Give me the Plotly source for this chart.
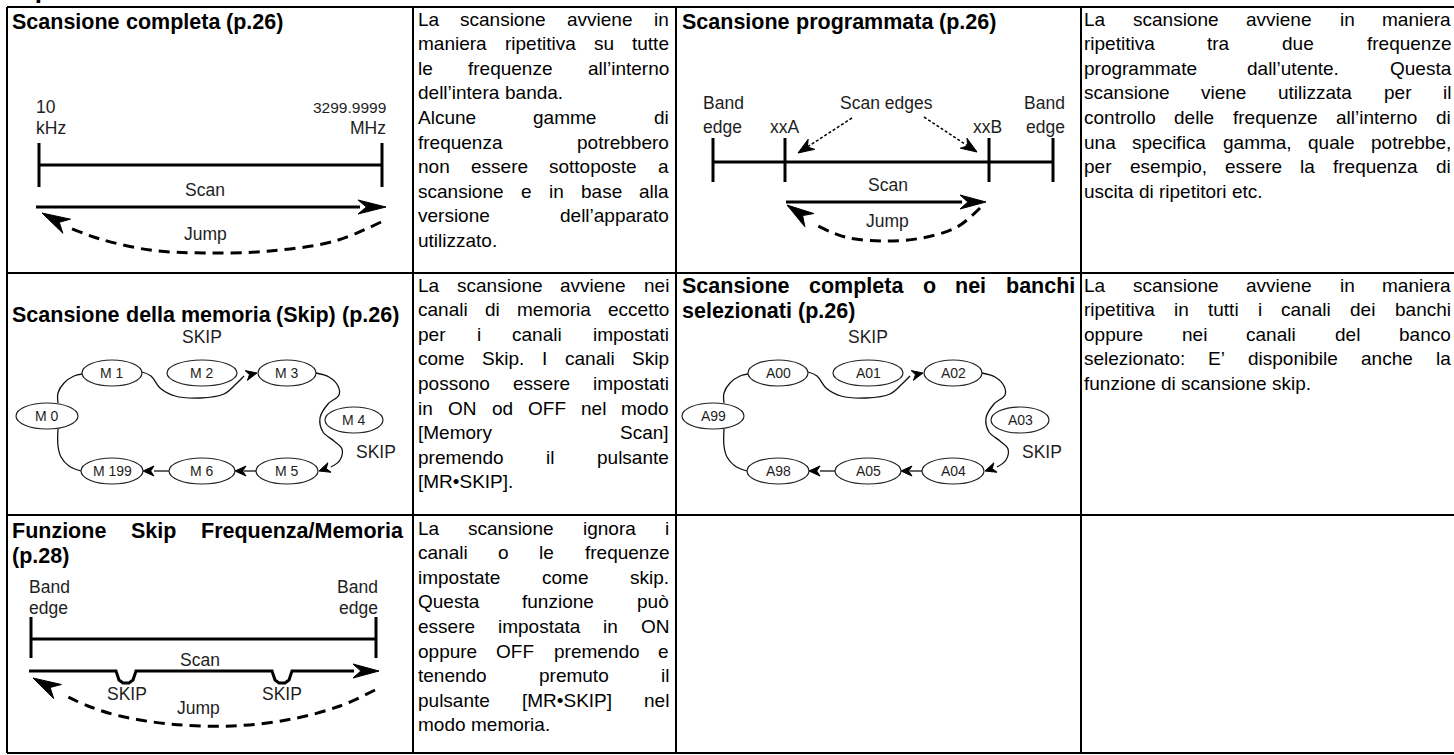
import math
import plotly.graph_objects as go

W, H = 1454, 755
FONT = "Liberation Sans, Arial, Helvetica, sans-serif"

# ---------------- table grid ----------------
col_x = [7, 413, 676, 1081, 1462]
row_y = [7, 273, 515, 753]
text_x0 = [12, 418, 682, 1084]
text_x1 = [403, 669, 1075, 1451]

# ---------------- cell texts (paragraphs -> lines) ----------------
page_heading = "Tipi di scansione"

r1c1_title = [["Scansione completa (p.26)"]]
r1c3_title = [["Scansione programmata (p.26)"]]
r2c1_title = [["Scansione della memoria (Skip) (p.26)"]]
r2c3_title = [["Scansione completa o nei banchi", "selezionati (p.26)"]]
r3c1_title = [["Funzione Skip Frequenza/Memoria", "(p.28)"]]

r1c2_text = [
    ["La scansione avviene in", "maniera ripetitiva su tutte",
     "le frequenze all’interno", "dell’intera banda."],
    ["Alcune gamme di", "frequenza potrebbero", "non essere sottoposte a",
     "scansione e in base alla", "versione dell’apparato", "utilizzato."],
]
r1c4_text = [
    ["La scansione avviene in maniera", "ripetitiva tra due frequenze",
     "programmate dall’utente. Questa", "scansione viene utilizzata per il",
     "controllo delle frequenze all’interno di",
     "una specifica gamma, quale potrebbe,",
     "per esempio, essere la frequenza di", "uscita di ripetitori etc."],
]
r2c2_text = [
    ["La scansione avviene nei", "canali di memoria eccetto",
     "per i canali impostati", "come Skip. I canali Skip",
     "possono essere impostati", "in ON od OFF nel modo",
     "[Memory Scan]", "premendo il pulsante", "[MR•SKIP]."],
]
r2c4_text = [
    ["La scansione avviene in maniera", "ripetitiva in tutti i canali dei banchi",
     "oppure nei canali del banco", "selezionato: E’ disponibile anche la",
     "funzione di scansione skip."],
]
r3c2_text = [
    ["La scansione ignora i", "canali o le frequenze", "impostate come skip.",
     "Questa funzione può", "essere impostata in ON", "oppure OFF premendo e",
     "tenendo premuto il", "pulsante [MR•SKIP] nel", "modo memoria."],
]

# ---------------- diagram data ----------------
# full scan diagram
d1_labels = [("10", 36, 107, "left"), ("kHz", 36, 128, "left"),
             ("MHz", 386, 128, "right"), ("Scan", 205, 190, "center"),
             ("Jump", 205, 234, "center")]
d1_upper = ("3299.9999", 386, 107)
d1_ticks_x = [39, 382]
d1_ticks_y = [143, 187]
d1_band_y = 165
d1_scan = [(36, 207), (360, 207)]
d1_scan_tip = (386, 207)
d1_jump = [(381, 222), (335, 241), (270, 251), (205, 253), (150, 250), (100, 239), (70, 228)]
d1_jump_tip = (42, 213)

# programmed scan diagram
d2_labels = [("Band", 703, 103, "left"), ("edge", 703, 127, "left"),
             ("Scan edges", 886, 103, "center"), ("Band", 1065, 103, "right"),
             ("edge", 1065, 127, "right"), ("xxA", 770, 127, "left"),
             ("xxB", 973, 127, "left"), ("Scan", 888, 185, "center"),
             ("Jump", 887, 221, "center")]
d2_ticks_x = [713, 785, 989, 1053]
d2_ticks_y = [138, 182]
d2_band_y = 162
d2_pointers = [((852, 118), (798, 153)), ((924, 117), (977, 152))]
d2_scan = [(786, 202), (962, 202)]
d2_scan_tip = (986, 202)
d2_jump = [(980, 208), (957, 227), (922, 238), (883, 241), (845, 237), (818, 226)]
d2_jump_tip = (787, 205)

# memory / bank loop diagrams (same layout, bank shifted right)
loop_dx = [0, 666]
loop_node_x = [47, 112, 202, 287, 354, 287, 202, 112]
loop_node_y = [416, 373, 373, 373, 420, 471, 471, 471]
loop_node_rx = [31, 30, 35, 29, 29, 31, 33, 31]
loop_node_ry = 13
mem_labels = ["M 0", "M 1", "M 2", "M 3", "M 4", "M 5", "M 6", "M 199"]
bank_labels = ["A99", "A00", "A01", "A02", "A03", "A04", "A05", "A98"]
loop_skip_labels = [(202, 337), (376, 452)]
loop_paths = [
    [(58, 403), (58, 393), (64, 383), (74, 376), (82, 374)],
    [(142, 372), (151, 376), (160, 388), (175, 396), (200, 398), (224, 394), (236, 384), (244, 376)],
    [(316, 373), (329, 377), (338, 386), (339, 395), (328, 404), (320, 418), (323, 432),
     (334, 441), (342, 449), (340, 460), (331, 467)],
    [(256, 471), (244, 471)],
    [(169, 471), (154, 471)],
    [(81, 471), (69, 466), (61, 457), (58, 446), (58, 429)],
]
loop_arrows = [((257, 373), (244, 376)), ((319, 471), (331, 467)),
               ((235, 471), (246, 471)), ((143, 471), (154, 471))]

# skip function diagram
d5_labels = [("Band", 29, 587, "left"), ("edge", 29, 608, "left"),
             ("Band", 378, 587, "right"), ("edge", 378, 608, "right"),
             ("Scan", 200, 660, "center"), ("SKIP", 127, 694, "center"),
             ("SKIP", 282, 694, "center"), ("Jump", 198, 708, "center")]
d5_ticks_x = [31, 376]
d5_ticks_y = [617, 658]
d5_band_y = 639
d5_scan = [(29, 671), (116, 671), (119, 680), (123, 683), (129, 683), (133, 680),
           (136, 671), (272, 671), (275, 680), (279, 683), (285, 683), (289, 680),
           (292, 671), (354, 671)]
d5_scan_tip = (379, 671)
d5_jump = [(375, 690), (340, 706), (292, 719), (232, 726), (170, 724), (120, 716),
           (88, 706), (62, 694)]
d5_jump_tip = (33, 678)

# ---------------- font metrics (Arial compatible) ----------------
REG_W = {' ': 278, '’': 222, "'": 191, '(': 333, ')': 333, ',': 278, '.': 278,
         ':': 278, '/': 278, '[': 278, ']': 278, '•': 350, '-': 333,
         'ò': 556, 'ù': 556, 'à': 556, 'è': 556, 'é': 556}
BOLD_W = {' ': 278, '(': 333, ')': 333, ',': 278, '.': 278, ':': 333, '/': 278}
for c in '0123456789':
    REG_W[c] = 556
    BOLD_W[c] = 556
REG_W.update(dict(zip('ABCDEFGHIJKLMNOPQRSTUVWXYZ',
                      [667, 667, 722, 722, 667, 611, 778, 722, 278, 500, 667, 556, 833,
                       722, 778, 667, 778, 722, 667, 611, 722, 667, 944, 667, 667, 611])))
REG_W.update(dict(zip('abcdefghijklmnopqrstuvwxyz',
                      [556, 556, 500, 556, 556, 278, 556, 556, 222, 222, 500, 222, 833,
                       556, 556, 556, 556, 333, 500, 278, 556, 500, 722, 500, 500, 500])))
BOLD_W.update(dict(zip('ABCDEFGHIJKLMNOPQRSTUVWXYZ',
                       [722, 722, 722, 722, 667, 611, 778, 722, 278, 556, 722, 611, 833,
                        722, 778, 667, 778, 722, 667, 611, 722, 667, 944, 667, 667, 611])))
BOLD_W.update(dict(zip('abcdefghijklmnopqrstuvwxyz',
                       [556, 611, 556, 611, 556, 333, 611, 611, 278, 278, 556, 278, 889,
                        611, 611, 611, 611, 389, 556, 333, 611, 556, 778, 556, 556, 500])))

BODY_SIZE = 19
TITLE_SIZE = 21.5
LINE_DY = 24.6
DIAG_SIZE = 17.5
NODE_SIZE = 14
DIAG_COLOR = "#1e1e1e"


def text_w(s, size, bold):
    tbl = BOLD_W if bold else REG_W
    return sum(tbl.get(c, 556) for c in s) * size / 1000.0


annotations = []
shapes = []
fig = go.Figure()


def add_text(txt, x, y, size, anchor="left", bold=False, color="black"):
    annotations.append(dict(
        x=x, y=y, xref="x", yref="y", text=("<b>%s</b>" % txt) if bold else txt,
        showarrow=False, xanchor=anchor, yanchor="middle", borderpad=0, borderwidth=0,
        font=dict(family=FONT, size=size, color=color)))


def place_paragraphs(paras, col, y0, bold=False):
    size = TITLE_SIZE if bold else BODY_SIZE
    x0, x1 = text_x0[col], text_x1[col]
    y = y0
    for para in paras:
        for i, line in enumerate(para):
            words = line.split(" ")
            last = (i == len(para) - 1)
            widths = [text_w(w, size, bold) for w in words]
            if not last and len(words) > 1:
                gap = (x1 - x0 - sum(widths)) / (len(words) - 1)
            else:
                gap = text_w(" ", size, bold)
            x = x0
            for w, wd in zip(words, widths):
                add_text(w, x, y, size, "left", bold)
                x += wd + gap
            y += LINE_DY


def add_line(pts, width=3, dash="solid", spline=False, color="black"):
    fig.add_trace(go.Scatter(
        x=[p[0] for p in pts], y=[p[1] for p in pts], mode="lines",
        line=dict(color=color, width=width, dash=dash,
                  shape="spline" if spline else "linear", smoothing=1.0),
        hoverinfo="skip", showlegend=False))


def add_head(tip, frm, length, half, color="black"):
    tx, ty = tip
    fx, fy = frm
    dx, dy = tx - fx, ty - fy
    d = math.hypot(dx, dy)
    ux, uy = dx / d, dy / d
    bx, by = tx - ux * length, ty - uy * length
    px, py = -uy, ux
    xs = [tx, bx + px * half, tx - ux * length * 0.7, bx - px * half, tx]
    ys = [ty, by + py * half, ty - uy * length * 0.7, by - py * half, ty]
    fig.add_trace(go.Scatter(x=xs, y=ys, mode="lines", fill="toself", fillcolor=color,
                             line=dict(color=color, width=1), hoverinfo="skip",
                             showlegend=False))


# ---------------- grid ----------------
for x in col_x:
    shapes.append(dict(type="line", xref="x", yref="y", x0=x, x1=x, y0=row_y[0], y1=row_y[-1],
                       line=dict(color="black", width=2)))
for y in row_y:
    shapes.append(dict(type="line", xref="x", yref="y", x0=col_x[0], x1=col_x[-1], y0=y, y1=y,
                       line=dict(color="black", width=2)))

# ---------------- texts ----------------
place_paragraphs(r1c1_title, 0, 22, bold=True)
place_paragraphs(r1c3_title, 2, 22, bold=True)
place_paragraphs(r1c2_text, 1, 19)
place_paragraphs(r1c4_text, 3, 19)
place_paragraphs(r2c1_title, 0, 315, bold=True)
place_paragraphs(r2c3_title, 2, 286, bold=True)
place_paragraphs(r2c2_text, 1, 285)
place_paragraphs(r2c4_text, 3, 285)
place_paragraphs(r3c1_title, 0, 531, bold=True)
place_paragraphs(r3c2_text, 1, 528)

annotations.append(dict(x=12 / W, y=1 - 4 / H, xref="paper", yref="paper",
                        text="<b>%s</b>" % page_heading, showarrow=False,
                        xanchor="left", yanchor="bottom", borderpad=0, borderwidth=0,
                        font=dict(family=FONT, size=26, color="black")))

# ---------------- diagram 1: full scan ----------------
for (t, x, y, a) in d1_labels:
    add_text(t, x, y, DIAG_SIZE, a, color=DIAG_COLOR)
add_text(d1_upper[0], d1_upper[1], d1_upper[2], 15.5, "right", color=DIAG_COLOR)
for x in d1_ticks_x:
    add_line([(x, d1_ticks_y[0]), (x, d1_ticks_y[1])], width=3)
add_line([(d1_ticks_x[0], d1_band_y), (d1_ticks_x[1], d1_band_y)], width=3)
add_line(d1_scan, width=3)
add_head(d1_scan_tip, d1_scan[-1], 28, 7)
add_line(d1_jump, width=3, dash="11px,7px", spline=True)
add_head(d1_jump_tip, d1_jump[-1], 28, 8)

# ---------------- diagram 2: programmed scan ----------------
for (t, x, y, a) in d2_labels:
    add_text(t, x, y, DIAG_SIZE, a, color=DIAG_COLOR)
for x in d2_ticks_x:
    add_line([(x, d2_ticks_y[0]), (x, d2_ticks_y[1])], width=3)
add_line([(d2_ticks_x[0], d2_band_y), (d2_ticks_x[-1], d2_band_y)], width=3)
for (frm, tip) in d2_pointers:
    add_line([frm, tip], width=1.5, dash="3px,2px")
    add_head(tip, frm, 16, 6)
add_line(d2_scan, width=3)
add_head(d2_scan_tip, d2_scan[-1], 26, 7)
add_line(d2_jump, width=3, dash="11px,7px", spline=True)
add_head(d2_jump_tip, d2_jump[-1], 27, 8)

# ---------------- diagrams 3 & 4: memory / bank loops ----------------
for dx, labels in zip(loop_dx, [mem_labels, bank_labels]):
    for cx, cy, rx, lab in zip(loop_node_x, loop_node_y, loop_node_rx, labels):
        shapes.append(dict(type="circle", xref="x", yref="y",
                           x0=cx + dx - rx, x1=cx + dx + rx,
                           y0=cy - loop_node_ry, y1=cy + loop_node_ry,
                           line=dict(color="#222222", width=1.2)))
        add_text(lab, cx + dx, cy, NODE_SIZE, "center", color=DIAG_COLOR)
    for (sx, sy) in loop_skip_labels:
        add_text("SKIP", sx + dx, sy, DIAG_SIZE, "center", color=DIAG_COLOR)
    for path in loop_paths:
        add_line([(px + dx, py) for (px, py) in path], width=1.3, spline=True, color="#111111")
    for (tip, frm) in loop_arrows:
        add_head((tip[0] + dx, tip[1]), (frm[0] + dx, frm[1]), 11, 5)

# ---------------- diagram 5: skip function ----------------
for (t, x, y, a) in d5_labels:
    add_text(t, x, y, DIAG_SIZE, a, color=DIAG_COLOR)
for x in d5_ticks_x:
    add_line([(x, d5_ticks_y[0]), (x, d5_ticks_y[1])], width=3)
add_line([(d5_ticks_x[0], d5_band_y), (d5_ticks_x[1], d5_band_y)], width=3)
add_line(d5_scan, width=3)
add_head(d5_scan_tip, d5_scan[-1], 26, 7)
add_line(d5_jump, width=3, dash="11px,7px", spline=True)
add_head(d5_jump_tip, d5_jump[-1], 28, 8)

fig.update_layout(
    width=W, height=H, autosize=False,
    margin=dict(l=0, r=0, t=0, b=0, pad=0),
    paper_bgcolor="white", plot_bgcolor="white", showlegend=False,
    xaxis=dict(range=[0, W], visible=False, fixedrange=True),
    yaxis=dict(range=[H, 0], visible=False, fixedrange=True),
    shapes=shapes, annotations=annotations,
)

fig.write_html("out.html", config={"displayModeBar": False},
               post_script="document.body.style.margin='0';")
